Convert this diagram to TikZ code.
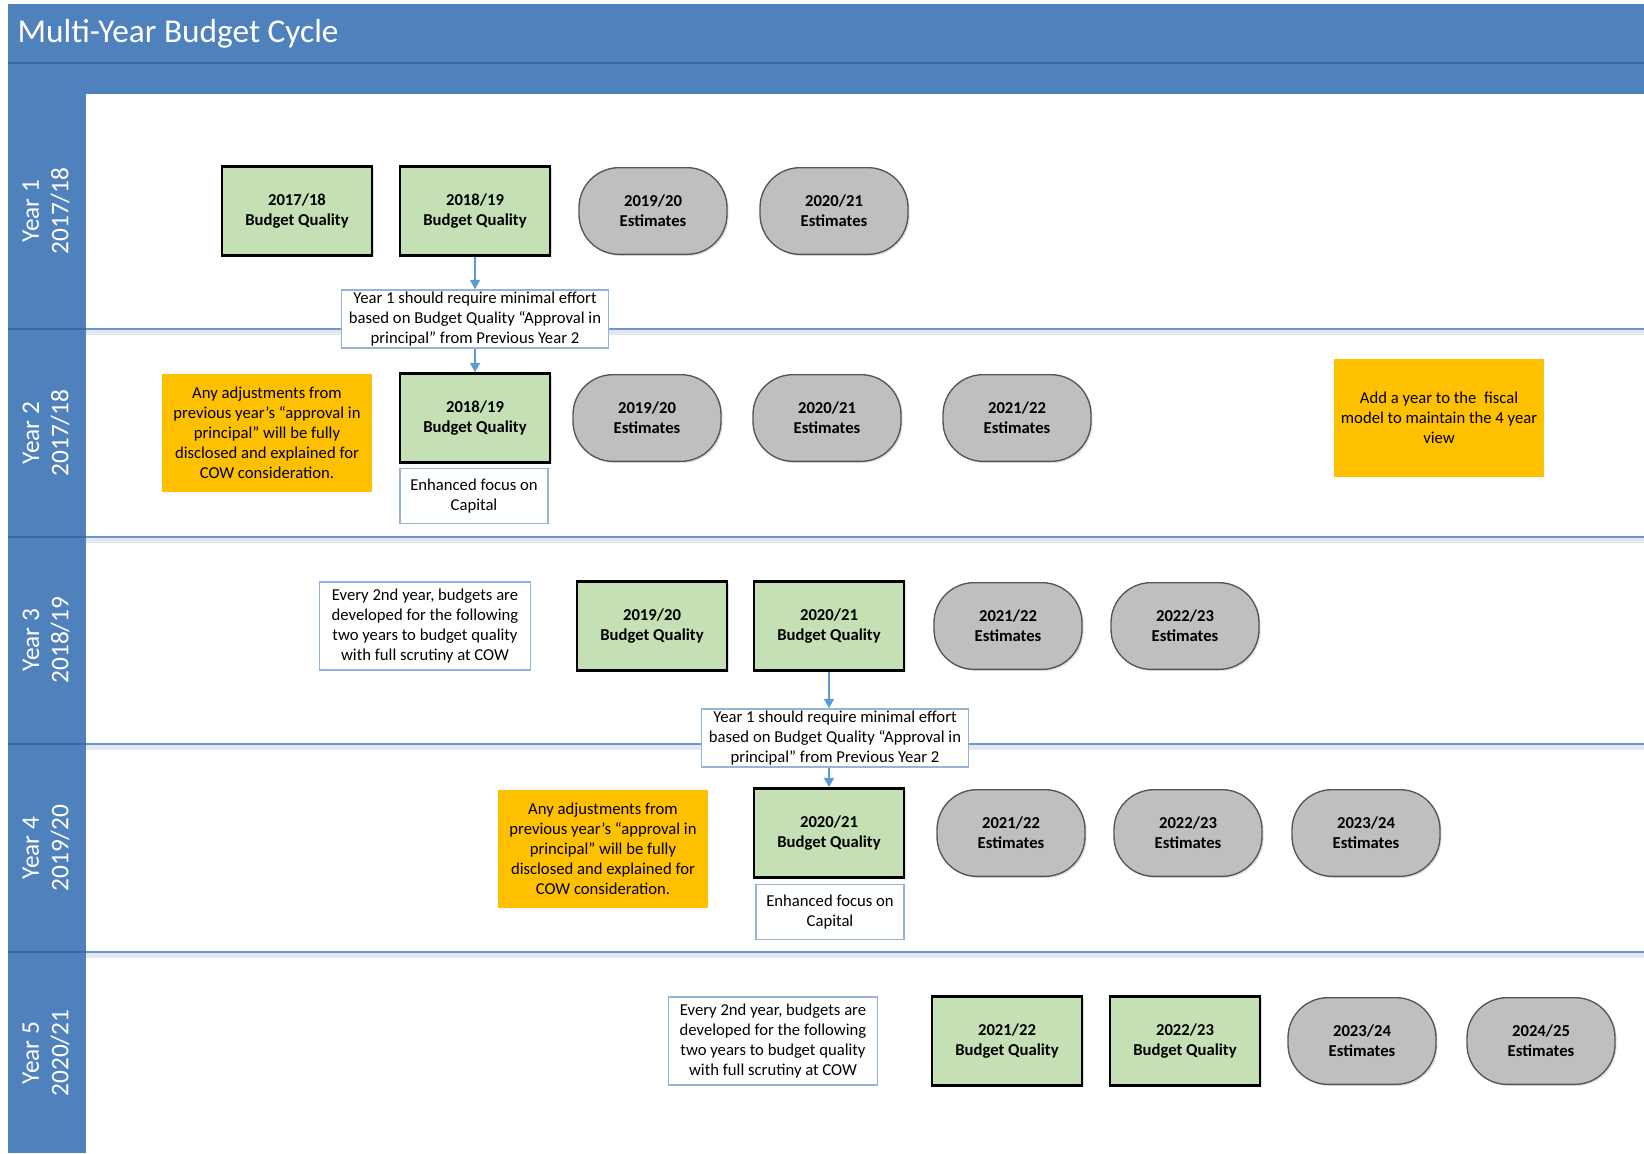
\documentclass[tikz,border=0pt]{standalone}
\usepackage{fontspec}
\setmainfont{Carlito}
\usetikzlibrary{arrows.meta,shadows}
\definecolor{hdr}{RGB}{79,129,189}
\definecolor{hdrline}{RGB}{62,104,156}
\definecolor{laneline}{RGB}{110,152,204}
\definecolor{lanesh}{RGB}{225,232,242}
\definecolor{bqfill}{RGB}{197,224,180}
\definecolor{estfill}{RGB}{191,191,191}
\definecolor{estdraw}{RGB}{85,85,85}
\definecolor{orng}{RGB}{255,192,0}
\definecolor{noteline}{RGB}{150,180,217}
\definecolor{arrowc}{RGB}{91,155,213}
\tikzset{
  bq/.style={draw=black, line width=2.2pt, fill=bqfill, minimum width=112.5pt, minimum height=66.5pt,
    align=center, font=\fontsize{12.5}{15}\selectfont\bfseries, inner sep=2pt,
    drop shadow={shadow xshift=1.2pt, shadow yshift=-1.2pt, opacity=0.25}},
  est/.style={draw=estdraw, line width=1pt, fill=estfill, minimum width=111pt, minimum height=65pt,
    rounded corners=30pt, align=center, font=\fontsize{12.5}{15}\selectfont\bfseries, inner sep=2pt,
    drop shadow={shadow xshift=1.2pt, shadow yshift=-1.2pt, opacity=0.25}},
  note/.style={draw=noteline, line width=1pt, fill=white, align=center,
    font=\fontsize{12.5}{15}\selectfont, inner sep=1.5pt},
  orangebox/.style={fill=orng, align=center, font=\fontsize{12.5}{15}\selectfont,
    minimum width=157pt, minimum height=89pt, inner sep=2pt},
  lanelbl/.style={text=white, align=center, font=\fontsize{19}{22}\selectfont, rotate=90},
  arr/.style={draw=arrowc, line width=1.1pt, -{Triangle[width=7.5pt,length=7pt]}},
}
\begin{document}
\begin{tikzpicture}[x=0.75pt,y=-0.75pt]
\useasboundingbox (0,0) rectangle (1644,1153);
\fill[white] (0,0) rectangle (1644,1153);
% header
\fill[hdr] (8,4) rectangle (1644,94);
\draw[hdrline, line width=1.5pt] (8,63) -- (1644,63);
\node[anchor=base west, text=white, font=\fontsize{25}{30}\selectfont] (title) at (13,42) {Multi-Year Budget Cycle};
% lane column
\fill[hdr] (8,94) rectangle (86,1153);
% lane separators
\foreach \yy in {329,537,744,952}{
  \fill[lanesh] (86,\yy) rectangle (1644,\yy+6);
  \draw[laneline, line width=1.4pt] (86,\yy) -- (1644,\yy);
  \draw[hdrline, line width=1pt] (8,\yy) -- (86,\yy);
}
\node[lanelbl] (l1) at (46,211) {Year 1\\2017/18};
\node[lanelbl] (l2) at (46,433) {Year 2\\2017/18};
\node[lanelbl] (l3) at (46,640) {Year 3\\2018/19};
\node[lanelbl] (l4) at (46,848) {Year 4\\2019/20};
\node[lanelbl] (l5) at (46,1053) {Year 5\\2020/21};

% Lane 1
\node[bq] (a1) at (297,211) {2017/18\\Budget Quality};
\node[bq] (a2) at (475,211) {2018/19\\Budget Quality};
\node[est] (a3) at (653,211) {2019/20\\Estimates};
\node[est] (a4) at (834,211) {2020/21\\Estimates};
\node[note, minimum width=200pt, minimum height=43.5pt] (n1) at (475,319)
  {Year 1 should require minimal effort\\based on Budget Quality “Approval in\\principal” from Previous Year 2};

% Lane 2
\node[orangebox] (o2) at (267,433) {Any adjustments from\\previous year’s “approval in\\principal” will be fully\\disclosed and explained for\\COW consideration.};
\node[bq] (b1) at (475,418) {2018/19\\Budget Quality};
\node[note, minimum width=111pt, minimum height=41pt] (e2) at (474,496) {Enhanced focus on\\Capital};
\node[est] (b2) at (647,418) {2019/20\\Estimates};
\node[est] (b3) at (827,418) {2020/21\\Estimates};
\node[est] (b4) at (1017,418) {2021/22\\Estimates};
\node[orangebox, minimum width=157.5pt, minimum height=88.5pt] (o2r) at (1439,418) {Add a year to the \ fiscal\\model to maintain the 4 year\\view};

% Lane 3
\node[note, minimum width=158pt, minimum height=66pt] (n3) at (425,626) {Every 2nd year, budgets are\\developed for the following\\two years to budget quality\\with full scrutiny at COW};
\node[bq] (c1) at (652,626) {2019/20\\Budget Quality};
\node[bq] (c2) at (829,626) {2020/21\\Budget Quality};
\node[est] (c3) at (1008,626) {2021/22\\Estimates};
\node[est] (c4) at (1185,626) {2022/23\\Estimates};
\node[note, minimum width=200pt, minimum height=43.5pt] (n3b) at (835,738)
  {Year 1 should require minimal effort\\based on Budget Quality “Approval in\\principal” from Previous Year 2};

% Lane 4
\node[orangebox] (o4) at (603,849) {Any adjustments from\\previous year’s “approval in\\principal” will be fully\\disclosed and explained for\\COW consideration.};
\node[bq] (d1) at (829,833) {2020/21\\Budget Quality};
\node[note, minimum width=111pt, minimum height=41pt] (e4) at (830,912) {Enhanced focus on\\Capital};
\node[est] (d2) at (1011,833) {2021/22\\Estimates};
\node[est] (d3) at (1188,833) {2022/23\\Estimates};
\node[est] (d4) at (1366,833) {2023/24\\Estimates};

% Lane 5
\node[note, minimum width=157pt, minimum height=66pt] (n5) at (773,1041) {Every 2nd year, budgets are\\developed for the following\\two years to budget quality\\with full scrutiny at COW};
\node[bq] (f1) at (1007,1041) {2021/22\\Budget Quality};
\node[bq] (f2) at (1185,1041) {2022/23\\Budget Quality};
\node[est] (f3) at (1362,1041) {2023/24\\Estimates};
\node[est] (f4) at (1541,1041) {2024/25\\Estimates};

% connectors
\draw[arr] (a2.south) -- (a2.south |- n1.north);
\draw[arr] (b1.north |- n1.south) -- (b1.north);
\draw[arr] (c2.south) -- (c2.south |- n3b.north);
\draw[arr] (d1.north |- n3b.south) -- (d1.north);
\end{tikzpicture}
\end{document}
